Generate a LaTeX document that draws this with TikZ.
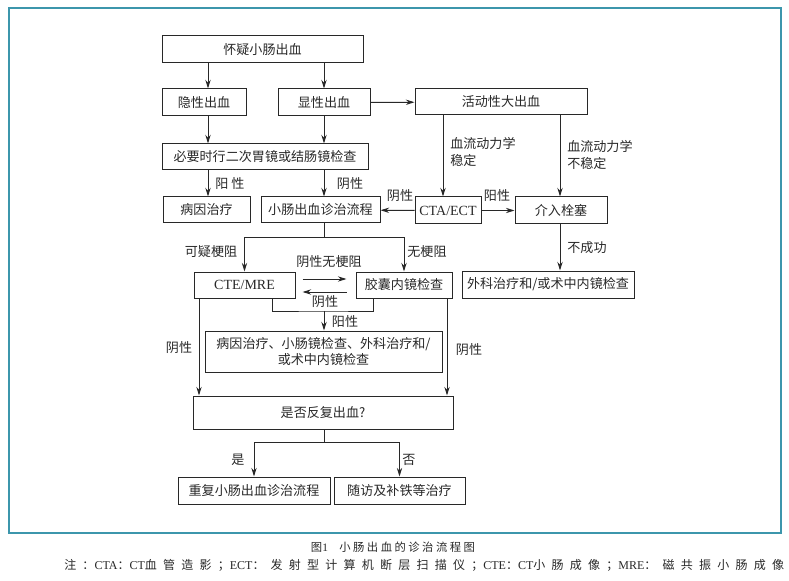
\documentclass[tikz,border=0pt]{standalone}
\usepackage{amsmath}
\usepackage{fontspec}
\setmainfont{Liberation Serif}
\newfontfamily\cjk{Noto Sans CJK SC}
\newfontfamily\cjkcap[LetterSpace=22]{Noto Sans CJK SC}
\newfontfamily\cjknote[LetterSpace=52]{Noto Sans CJK SC}
\usetikzlibrary{arrows.meta}

\definecolor{framecol}{RGB}{60,150,172}
\definecolor{inkcol}{RGB}{40,40,40}

\tikzset{
  flowbox/.style={draw=inkcol, line width=0.75pt, inner sep=0pt, text=inkcol,
    font=\cjk\fontsize{9.8}{12}\selectfont, align=center},
  flowlabel/.style={inner sep=0pt, text=inkcol, font=\cjk\fontsize{9.8}{13}\selectfont, align=left},
  flowline/.style={draw=inkcol, line width=0.75pt},
  flowarrow/.style={flowline, -{Stealth[length=6.5pt,width=4pt]}}
}

\begin{document}
\begin{tikzpicture}[x=0.75pt,y=0.75pt,yscale=-1,xscale=1]
        \useasboundingbox (0,0) rectangle (789,581);

        %Shape: Frame
        \draw [color=framecol, line width=0.9pt] (9,8) rectangle (781,533) ;

        % columns for the vertical connectors
        \coordinate (colA) at (208,0);
        \coordinate (colB) at (324,0);
        \coordinate (colC) at (443,0);
        \coordinate (colD) at (560,0);
        \coordinate (colE) at (199,0);
        \coordinate (colF) at (447,0);
        \coordinate (colG) at (272,0);
        \coordinate (colH) at (373,0);

        % Boxes
        \node [flowbox, minimum width=150.75pt, minimum height=20.25pt] (suspect) at (262.5,49.5) {怀疑小肠出血};
        \node [flowbox, minimum width=63pt, minimum height=20.25pt] (occult) at (204,102.5) {隐性出血};
        \node [flowbox, minimum width=69pt, minimum height=20.25pt] (overt) at (324,102.5) {显性出血};
        \node [flowbox, minimum width=129pt, minimum height=19.5pt] (active) at (501,102) {活动性大出血};
        \node [flowbox, minimum width=154.5pt, minimum height=19.5pt] (endo) at (265,157) {必要时行二次胃镜或结肠镜检查};
        \node [flowbox, minimum width=65.25pt, minimum height=19.5pt] (cause) at (206.5,210) {病因治疗};
        \node [flowbox, minimum width=89.25pt, minimum height=19.5pt] (sbflow) at (320.5,210) {小肠出血诊治流程};
        \node [flowbox, minimum width=49.5pt, minimum height=20.25pt, font=\fontsize{10.5}{12}\selectfont] (cta) at (448,210.5) {CTA/ECT};
        \node [flowbox, minimum width=69pt, minimum height=20.25pt] (embol) at (561,210.5) {介入栓塞};
        \node [flowbox, minimum width=129pt, minimum height=20.25pt] (surg) at (548,284.5) {外科治疗和/或术中内镜检查};
        \node [flowbox, minimum width=75.75pt, minimum height=19.5pt, font=\fontsize{10.5}{12}\selectfont] (ctemre) at (244.5,285) {CTE/MRE};
        \node [flowbox, minimum width=72pt, minimum height=19.5pt] (capsule) at (404,285) {胶囊内镜检查};
        \node [flowbox, minimum width=177.75pt, minimum height=30.75pt] (treat) at (323.5,351.5) {病因治疗、小肠镜检查、外科治疗和/\\或术中内镜检查};
        \node [flowbox, minimum width=195pt, minimum height=24.75pt] (rebleed) at (323,412.5) {是否反复出血?};
        \node [flowbox, minimum width=114pt, minimum height=20.25pt] (repeat) at (254,490.5) {重复小肠出血诊治流程};
        \node [flowbox, minimum width=98.25pt, minimum height=20.25pt] (follow) at (399.5,490.5) {随访及补铁等治疗};

        %Straight Lines
        \draw [flowarrow] (suspect.south -| colA) -- (occult.north -| colA) ;
        \draw [flowarrow] (suspect.south -| colB) -- (overt.north -| colB) ;
        \draw [flowarrow] (occult.south -| colA) -- (endo.north -| colA) ;
        \draw [flowarrow] (overt.south -| colB) -- (endo.north -| colB) ;
        \draw [flowarrow] (overt) -- (active) ;
        \draw [flowarrow] (endo.south -| colA) -- (cause.north -| colA) ;
        \draw [flowarrow] (endo.south -| colB) -- (sbflow.north -| colB) ;
        \draw [flowarrow] (active.south -| colC) -- (cta.north -| colC) ;
        \draw [flowarrow] (active.south -| colD) -- (embol.north -| colD) ;
        \draw [flowarrow] (cta) -- (sbflow) ;
        \draw [flowarrow] (cta) -- (embol) ;
        \draw [flowarrow] (embol.south -| colD) -- (surg.north -| colD) ;

        %Split below the work-up
        \coordinate (split) at (324,237);
        \draw [flowline] (sbflow.south -| colB) -- (split) ;
        \draw [flowarrow] (split) -| (ctemre.north) ;
        \draw [flowarrow] (split) -| (capsule.north) ;

        %Between CTE/MRE and capsule
        \draw [flowarrow, shorten <=5.25pt, shorten >=6.75pt] ([yshift=-4.5pt]ctemre.east) -- ([yshift=-4.5pt]capsule.west) ;
        \draw [flowarrow, shorten <=6.75pt, shorten >=5.25pt] ([yshift=5.25pt]capsule.west) -- ([yshift=5.25pt]ctemre.east) ;

        %Bracket to the treatment box
        \coordinate (merge) at (324,311);
        \draw [flowline] (ctemre.south -| colG) |- (merge) -| (capsule.south -| colH) ;
        \draw [flowarrow] (merge) -- (merge |- treat.north) ;

        \draw [flowarrow] (ctemre.south -| colE) -- (rebleed.north -| colE) ;
        \draw [flowarrow] (capsule.south -| colF) -- (rebleed.north -| colF) ;

        %Fork at the end
        \coordinate (fork) at (324,442);
        \draw [flowline] (rebleed.south -| colB) -- (fork) ;
        \draw [flowarrow] (fork) -| (repeat.north) ;
        \draw [flowarrow] (fork) -| (follow.north) ;

        % Text Node
        \node [flowlabel] (lposA) at (230,184) {阳\ 性};
        \node [flowlabel] (lnegA) at (350,184) {阴性};
        \node [flowlabel, anchor=north west] (lstable) at (450,137) {血流动力学\\稳定};
        \node [flowlabel, anchor=north west] (lunstable) at (567,140) {血流动力学\\不稳定};
        \node [flowlabel] (lnegB) at (400,196) {阴性};
        \node [flowlabel] (lposB) at (497,196) {阳性};
        \node [flowlabel] (lfail) at (587,248) {不成功};
        \node [flowlabel] (lsusp) at (211,252) {可疑梗阻};
        \node [flowlabel] (lnone) at (427,252) {无梗阻};
        \node [flowlabel] (lnegnone) at (329,262) {阴性无梗阻};
        \node [flowlabel] (lnegC) at (325,302) {阴性};
        \node [flowlabel] (lposC) at (345,322) {阳性};
        \node [flowlabel] (lnegL) at (179,348) {阴性};
        \node [flowlabel] (lnegR) at (469,350) {阴性};
        \node [flowlabel] (lyes) at (238,460) {是};
        \node [flowlabel] (lno) at (409,460) {否};

        % Caption
        \node [inner sep=0pt, text=inkcol] (caption) at (393,547) {\fontsize{8.5}{10}\selectfont{\cjkcap 图}1\quad{\cjkcap 小肠出血的诊治流程图}};
        \node [inner sep=0pt, text=inkcol, anchor=west] (note) at (64,565) {\fontsize{9}{10}\selectfont{\cjknote 注：}CTA{\cjknote ：}CT{\cjknote 血管造影；}ECT{\cjknote ：发射型计算机断层扫描仪；}CTE{\cjknote ：}CT{\cjknote 小肠成像；}MRE{\cjknote ：磁共振小肠成像}};

    \end{tikzpicture}
\end{document}
